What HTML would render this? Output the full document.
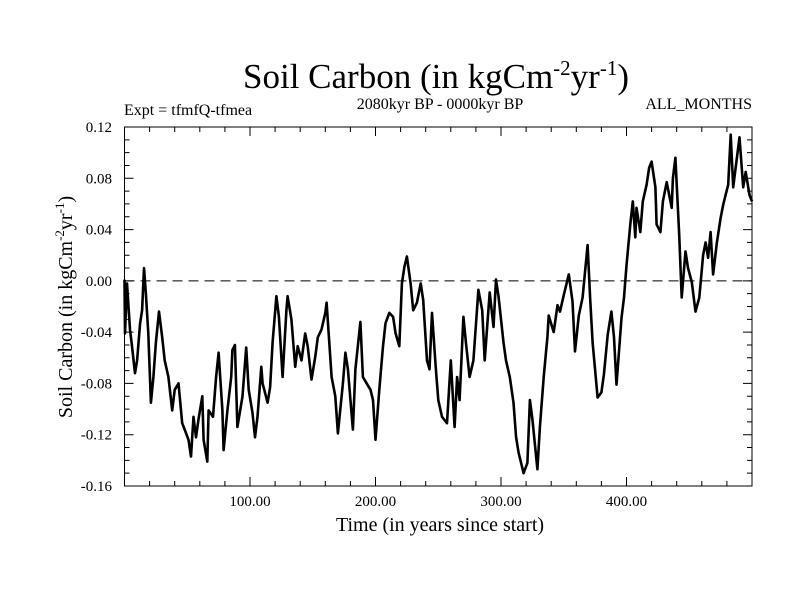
<!DOCTYPE html>
<html><head><meta charset="utf-8"><style>
body{margin:0;background:#fff}
svg{display:block;font-family:"Liberation Serif",serif}
</style></head><body>
<svg id="chart" width="800" height="600" viewBox="0 0 800 600">
<text x="436" y="88" font-size="35" text-anchor="middle">Soil Carbon (in kgCm<tspan dy="-13" font-size="21">-2</tspan><tspan dy="13">yr</tspan><tspan dy="-13" font-size="21">-1</tspan><tspan dy="13">)</tspan></text>
<text x="124" y="115" font-size="16">Expt = tfmfQ-tfmea</text>
<text x="440" y="109" font-size="16" text-anchor="middle">2080kyr BP - 0000kyr BP</text>
<text x="752" y="109" font-size="16" text-anchor="end">ALL_MONTHS</text>
<g id="axes"></g>
<g id="marks"></g>
<text x="440" y="531" font-size="20" text-anchor="middle">Time (in years since start)</text>
<text transform="translate(72,307) rotate(-90)" font-size="20" text-anchor="middle">Soil Carbon (in kgCm<tspan dy="-8" font-size="13">-2</tspan><tspan dy="8">yr</tspan><tspan dy="-8" font-size="13">-1</tspan><tspan dy="8">)</tspan></text>
</svg>
<script>
const years=[0,0.4,2,4.4,6,8.4,10,12.4,14,15.5,17,19,21,23,25,27.5,30,32,35,38,40,43,46,48,51,53,55,57,59,62,63,66,67,70.5,73,75,78,79,82,85,86,88,90,94,97,99,102,104,106,109,110,114,116,118,121,123,126,129,130,133,136,138,141,144,146,149,152,154,157,160,161,165,168,170,174,176,178,182,184,188,190,193,196,198,200,203,206,208,211,214,216,219,221,223,225,228,230,233,236,238,241,243,245,248,250,253,257,260,263,265,267,270,272,275,278,282,285,287,291,294,296,298,302,304,307,310,312,314,318,321,323,325,329,331,334,337,338,342,345,347,350,354,357,359,362,365,369,371,373,377,380,382,385,388,390,392,396,398,400,403,405,407,408,411,413,416,418,420,423,424,427,429,432,436,437,439,442,444,447,449,452,455,458,461,463,465,467,469,472,475,477,479,481,483,485,488,490,493,495,498,500];
const carbon=[0.001,-0.041,-0.002,-0.038,-0.051,-0.072,-0.062,-0.033,-0.023,0.010,-0.009,-0.041,-0.095,-0.075,-0.048,-0.024,-0.044,-0.062,-0.075,-0.101,-0.085,-0.080,-0.111,-0.116,-0.124,-0.137,-0.106,-0.122,-0.108,-0.090,-0.124,-0.141,-0.101,-0.106,-0.075,-0.056,-0.101,-0.132,-0.101,-0.075,-0.054,-0.050,-0.114,-0.090,-0.052,-0.085,-0.103,-0.122,-0.106,-0.067,-0.080,-0.095,-0.083,-0.048,-0.012,-0.028,-0.075,-0.023,-0.012,-0.030,-0.067,-0.051,-0.062,-0.041,-0.051,-0.077,-0.059,-0.044,-0.038,-0.025,-0.017,-0.075,-0.090,-0.119,-0.080,-0.056,-0.069,-0.116,-0.069,-0.032,-0.075,-0.080,-0.085,-0.093,-0.124,-0.085,-0.051,-0.033,-0.025,-0.028,-0.041,-0.051,-0.002,0.011,0.019,-0.002,-0.023,-0.017,-0.002,-0.015,-0.062,-0.069,-0.025,-0.067,-0.093,-0.106,-0.111,-0.062,-0.114,-0.075,-0.093,-0.028,-0.048,-0.075,-0.062,-0.007,-0.023,-0.062,-0.009,-0.036,0.001,-0.012,-0.048,-0.062,-0.075,-0.095,-0.122,-0.134,-0.150,-0.142,-0.093,-0.108,-0.147,-0.114,-0.075,-0.044,-0.027,-0.040,-0.019,-0.024,-0.011,0.005,-0.016,-0.055,-0.027,-0.013,0.028,-0.013,-0.048,-0.091,-0.087,-0.073,-0.042,-0.024,-0.044,-0.081,-0.029,-0.013,0.012,0.044,0.062,0.034,0.057,0.038,0.062,0.075,0.088,0.093,0.073,0.044,0.038,0.062,0.077,0.057,0.080,0.096,0.036,-0.013,0.023,0.010,-0.001,-0.024,-0.013,0.020,0.030,0.018,0.038,0.005,0.030,0.049,0.059,0.067,0.075,0.114,0.073,0.096,0.112,0.073,0.085,0.067,0.062];
const yTicks=[0.12,0.08,0.04,0.00,-0.04,-0.08,-0.12,-0.16];
const yTickLabels=["0.12","0.08","0.04","0.00","-0.04","-0.08","-0.12","-0.16"];
const xTicks=[100,200,300,400];
const xTickLabels=["100.00","200.00","300.00","400.00"];
const L=124.5,R=752,T=127,B=486,X0=0,X1=500,Y0=-0.16,Y1=0.12;
const xs=v=>L+(v-X0)/(X1-X0)*(R-L);
const ys=v=>B-(v-Y0)/(Y1-Y0)*(B-T);
const NS="http://www.w3.org/2000/svg";
const axes=document.getElementById('axes'),marks=document.getElementById('marks');
function mk(tag,attrs,parent){const e=document.createElementNS(NS,tag);for(const k in attrs)e.setAttribute(k,attrs[k]);parent.appendChild(e);return e;}
const frame=mk('rect',{x:L,y:T,width:R-L,height:B-T,fill:'none',stroke:'#000','stroke-width':1},axes);


const zero=mk('line',{x1:L,x2:R,y1:ys(0),y2:ys(0),stroke:'#000','stroke-dasharray':'10,6','stroke-width':1},axes);


for(let i=0;i<=28;i++){const v=Y0+i*0.01,y=ys(v),major=i%4===0,len=major?9:5;
 const t=mk('path',{d:`M${L},${y}h${len}M${R},${y}h${-len}`,stroke:'#000','stroke-width':1},axes);
 
 }
for(let i=0;i<=25;i++){const v=i*20,x=xs(v),major=v%100===0,len=major?9:5;
 const t=mk('path',{d:`M${x},${B}v${-len}M${x},${T}v${len}`,stroke:'#000','stroke-width':1},axes);
 
 }
yTicks.forEach((v,i)=>{const t=mk('text',{x:112,y:ys(v)+5,'font-size':15,'text-anchor':'end'},axes);t.textContent=yTickLabels[i];
 
 });
xTicks.forEach((v,i)=>{const t=mk('text',{x:xs(v),y:506,'font-size':15,'text-anchor':'middle'},axes);t.textContent=xTickLabels[i];
 
 });
const d=years.map((v,i)=>(i?'L':'M')+xs(v).toFixed(1)+','+ys(carbon[i]).toFixed(1)).join('');
const line=mk('path',{d:d,fill:'none',stroke:'#000','stroke-width':2.6,'stroke-linejoin':'round'},marks);


</script>
</body></html>
